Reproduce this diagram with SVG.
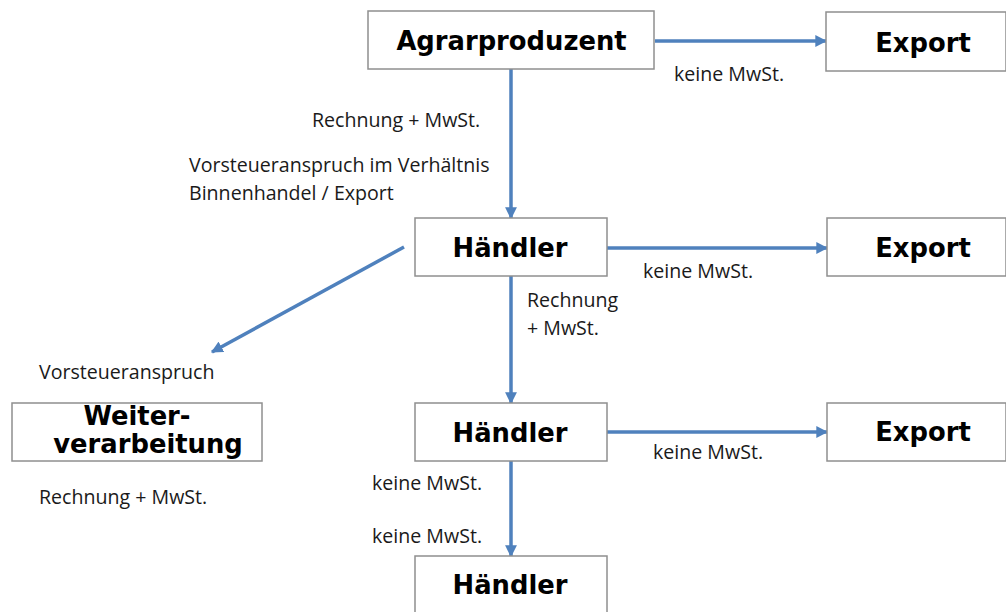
<svg xmlns="http://www.w3.org/2000/svg" width="1006" height="612" viewBox="0 0 1006 612">
<style>
.box{fill:#ffffff;stroke:#8f8f8f;stroke-width:1.5}
.bt{font-family:"DejaVu Sans",Verdana,sans-serif;font-weight:bold;font-size:25.8px;fill:#000;text-anchor:middle}
.lt{font-family:"Open Sans","Noto Sans",sans-serif;font-size:19.6px;fill:#1a1a1a}
.ar{stroke:#4f81bd;stroke-width:3.5;fill:none;marker-end:url(#ah)}
</style>
<defs>
<marker id="ah" viewBox="0 0 10 10" refX="9" refY="5" markerWidth="3.4" markerHeight="3.4" orient="auto" markerUnits="strokeWidth">
<path d="M0,0 L10,5 L0,10 z" fill="#4f81bd"/>
</marker>
</defs>
<rect width="1006" height="612" fill="#ffffff"/>
<g id="connectors">
<line class="ar" x1="655" y1="41" x2="826" y2="41"/>
<line class="ar" x1="511" y1="69" x2="511" y2="218"/>
<line class="ar" x1="607" y1="248" x2="827" y2="248"/>
<line class="ar" x1="511" y1="276" x2="511" y2="403"/>
<line class="ar" x1="607" y1="432" x2="827" y2="432"/>
<line class="ar" x1="511" y1="461" x2="511" y2="556"/>
<line class="ar" x1="404" y1="247" x2="212" y2="352"/>
</g>
<g id="agrarproduzent"><rect class="box" x="368" y="11" width="286" height="58"/><text class="bt" x="511.5" y="50">Agrarproduzent</text></g>
<g id="export1"><rect class="box" x="826" y="12" width="180" height="59"/><text class="bt" x="923" y="52">Export</text></g>
<g id="haendler1"><rect class="box" x="415" y="218" width="192" height="58"/><text class="bt" x="510" y="257">Händler</text></g>
<g id="export2"><rect class="box" x="827" y="218" width="179" height="58"/><text class="bt" x="923" y="257">Export</text></g>
<g id="weiterverarbeitung"><rect class="box" x="12" y="403" width="250" height="58"/><text class="bt" x="137" y="425">Weiter-</text><text class="bt" x="148" y="453">verarbeitung</text></g>
<g id="haendler2"><rect class="box" x="415" y="403" width="192" height="58"/><text class="bt" x="510" y="442">Händler</text></g>
<g id="export3"><rect class="box" x="827" y="403" width="179" height="58"/><text class="bt" x="923" y="441">Export</text></g>
<g id="haendler3"><rect class="box" x="415" y="556" width="192" height="60"/><text class="bt" x="510" y="594">Händler</text></g>
<g id="labels">
<text class="lt" x="674" y="81">keine MwSt.</text>
<text class="lt" x="312" y="127">Rechnung + MwSt.</text>
<text class="lt" x="189" y="172">Vorsteueranspruch im Verhältnis</text>
<text class="lt" x="189" y="200">Binnenhandel  / Export</text>
<text class="lt" x="643" y="278">keine MwSt.</text>
<text class="lt" x="527" y="307">Rechnung</text>
<text class="lt" x="527" y="335">+ MwSt.</text>
<text class="lt" x="39" y="379">Vorsteueranspruch</text>
<text class="lt" x="653" y="459">keine MwSt.</text>
<text class="lt" x="372" y="490">keine MwSt.</text>
<text class="lt" x="39" y="504">Rechnung + MwSt.</text>
<text class="lt" x="372" y="543">keine MwSt.</text>
</g>
</svg>
